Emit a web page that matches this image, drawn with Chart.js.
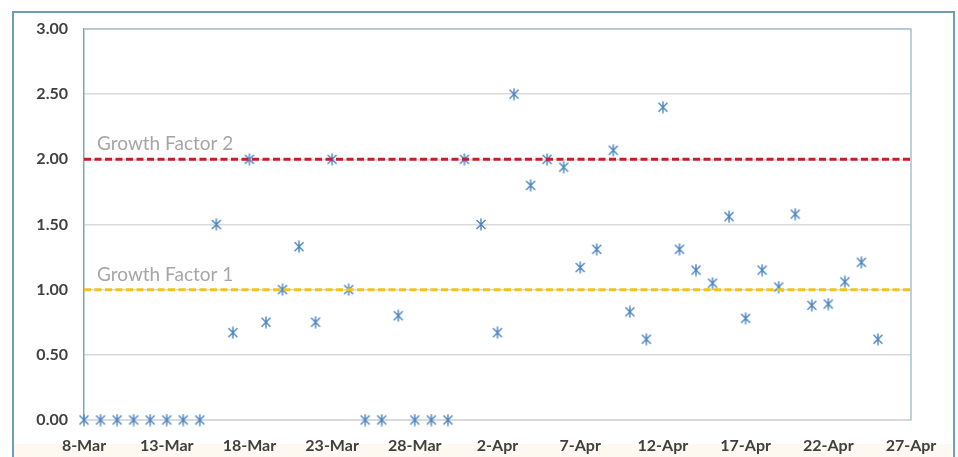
<!DOCTYPE html>
<html>
<head>
<meta charset="utf-8">
<script src="https://cdn.jsdelivr.net/npm/chart.js@4/dist/chart.umd.min.js"></script>
<style>
  html, body { margin: 0; padding: 0; background: #fff; width: 958px; height: 457px; overflow: hidden; }
  #band { position: absolute; left: 14px; top: 444px; width: 938px; height: 13px; background: #fdf9f0; }
  #wrap { position: absolute; left: 0; top: 0; width: 958px; height: 457px; }
  #frame { position: absolute; left: 12px; top: 11px; width: 943px; height: 470px;
           border: 2px solid #6f9fae; box-sizing: border-box; pointer-events: none; }
</style>
</head>
<body>
<div id="band"></div>
<div id="wrap"><canvas id="c" width="958" height="457"></canvas></div>
<div id="frame"></div>
<script>
// Daily dates along the x axis (8-Mar to 27-Apr)
const dates = [
  '8-Mar','9-Mar','10-Mar','11-Mar','12-Mar','13-Mar','14-Mar','15-Mar','16-Mar','17-Mar',
  '18-Mar','19-Mar','20-Mar','21-Mar','22-Mar','23-Mar','24-Mar','25-Mar','26-Mar','27-Mar',
  '28-Mar','29-Mar','30-Mar','31-Mar','1-Apr','2-Apr','3-Apr','4-Apr','5-Apr','6-Apr',
  '7-Apr','8-Apr','9-Apr','10-Apr','11-Apr','12-Apr','13-Apr','14-Apr','15-Apr','16-Apr',
  '17-Apr','18-Apr','19-Apr','20-Apr','21-Apr','22-Apr','23-Apr','24-Apr','25-Apr','26-Apr',
  '27-Apr'
];

// Daily growth factor (8-Mar to 25-Apr)
const growthFactor = [
  0, 0, 0, 0, 0, 0, 0, 0, 1.5, 0.67,
  2.0, 0.75, 1.0, 1.33, 0.75, 2.0, 1.0, 0, 0, 0.8,
  0, 0, 0, 2.0, 1.5, 0.67, 2.5, 1.8, 2.0, 1.94,
  1.17, 1.31, 2.07, 0.83, 0.62, 2.4, 1.31, 1.15, 1.05, 1.56,
  0.78, 1.15, 1.02, 1.58, 0.88, 0.89, 1.06, 1.21, 0.62
];

// Reference levels
const referenceLevels = [2, 1];
const referenceNames = ['Growth Factor 2', 'Growth Factor 1'];
const referenceColors = ['#c4202a', '#f0c41b'];

// Y axis ticks
const yTicks = [0, 0.5, 1, 1.5, 2, 2.5, 3];

// Asterisk marker
function makeStar() {
  const cv = document.createElement('canvas');
  cv.width = 12; cv.height = 13;
  const g = cv.getContext('2d');
  g.strokeStyle = '#4a84c0';
  g.lineWidth = 1.4;
  g.beginPath();
  g.moveTo(1.5, 2); g.lineTo(10.5, 11);
  g.moveTo(10.5, 2); g.lineTo(1.5, 11);
  g.moveTo(6, 0.5); g.lineTo(6, 12.5);
  g.stroke();
  return cv;
}
const star = makeStar();

const firstDate = dates[0];
const lastDate = dates[dates.length - 1];

const refDatasets = referenceLevels.map((lvl, i) => ({
  type: 'line',
  label: referenceNames[i],
  data: [{ x: firstDate, y: lvl }, { x: lastDate, y: lvl }],
  borderColor: referenceColors[i],
  borderWidth: 3,
  borderDash: [7, 3.5],
  pointRadius: 0,
  fill: false,
  order: 0
}));

const refLabels = {
  id: 'refLabels',
  afterDatasetsDraw(chart) {
    const { ctx, chartArea, scales } = chart;
    ctx.save();
    ctx.font = '19px Lato';
    ctx.fillStyle = '#a6a6a6';
    ctx.textBaseline = 'alphabetic';
    ctx.textAlign = 'left';
    referenceLevels.forEach((lvl, i) => {
      const y = scales.y.getPixelForValue(lvl);
      ctx.fillText(referenceNames[i], chartArea.left + 13, y - 9);
    });
    ctx.restore();
  }
};

const plotFrame = {
  id: 'plotFrame',
  beforeDatasetsDraw(chart) {
    const { ctx, chartArea } = chart;
    ctx.save();
    ctx.strokeStyle = '#a9c2c9';
    ctx.lineWidth = 1.5;
    ctx.beginPath();
    ctx.moveTo(chartArea.left, chartArea.top);
    ctx.lineTo(chartArea.right, chartArea.top);
    ctx.lineTo(chartArea.right, chartArea.bottom);
    ctx.stroke();
    ctx.restore();
  }
};

const tickFont = { family: 'Lato', size: 16, weight: 'bold' };

new Chart(document.getElementById('c'), {
  type: 'line',
  data: {
    labels: dates,
    datasets: [
      ...refDatasets,
      {
        type: 'line',
        label: 'Growth factor',
        data: growthFactor,
        showLine: false,
        pointStyle: star,
        pointRadius: 6,
        clip: false,
        order: 1
      }
    ]
  },
  options: {
    responsive: false,
    animation: false,
    layout: { padding: { left: 0, top: 29, right: 47, bottom: 0 } },
    plugins: { legend: { display: false }, tooltip: { enabled: false } },
    scales: {
      x: {
        type: 'category',
        offset: false,
        grid: { display: false, drawTicks: false },
        border: { color: '#d9d9d9', width: 1 },
        ticks: {
          autoSkip: false,
          maxRotation: 0,
          padding: 16,
          color: '#404040',
          font: tickFont,
          callback: (v, i) => (i % 5 === 0 ? dates[i] : '')
        },
        afterFit: s => { s.height = 37; }
      },
      y: {
        min: yTicks[0],
        max: yTicks[yTicks.length - 1],
        afterBuildTicks: s => { s.ticks = yTicks.map(v => ({ value: v })); },
        grid: { color: '#d9d9d9', lineWidth: 1.5, drawTicks: false },
        border: { color: '#7ea3ad', width: 1.5 },
        ticks: {
          padding: 16,
          color: '#404040',
          font: tickFont,
          callback: v => Number(v).toFixed(2)
        },
        afterFit: s => { s.width = 84; }
      }
    }
  },
  plugins: [plotFrame, refLabels]
});
</script>
</body>
</html>
